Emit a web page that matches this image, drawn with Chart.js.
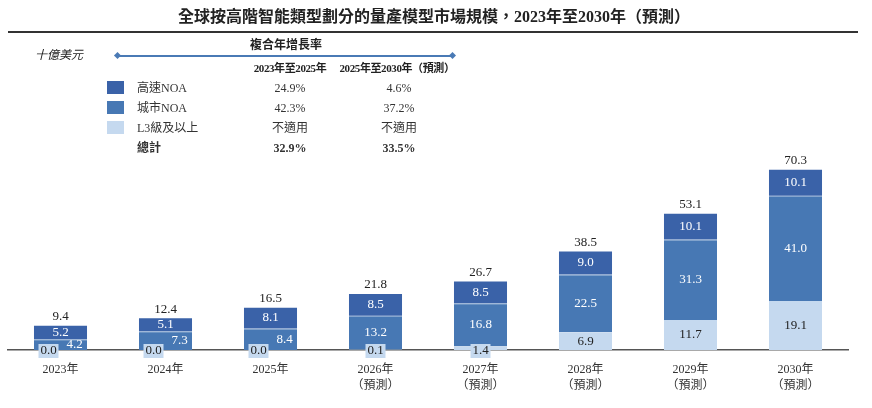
<!DOCTYPE html>
<html>
<head>
<meta charset="utf-8">
<script src="https://cdn.jsdelivr.net/npm/chart.js@4"></script>
<style>
  body { margin: 0; background: #fff; }
  #wrap { position: relative; width: 872px; height: 408px; font-family: "Liberation Serif", "DejaVu Serif", "Noto Sans CJK TC", serif; color: #222; }
  #wrap canvas { position: absolute; left: 0; top: 0; }
  .t { position: absolute; white-space: nowrap; font-size: 12px; line-height: 14px; }
  .c { transform: translateX(-50%); }
  .b { font-weight: bold; }
  .h { font-size: 11px; letter-spacing: -0.4px; }
  .sw { position: absolute; width: 17px; height: 13px; }
</style>
</head>
<body>
<div id="wrap">
  <canvas id="chart" width="872" height="408"></canvas>
  <div class="t c b" style="left:434px;top:8px;font-size:16px;line-height:18px;">全球按高階智能類型劃分的量產模型市場規模，2023年至2030年（預測）</div>
  <div style="position:absolute;left:8px;top:31px;width:850px;height:2px;background:#333;"></div>
  <div class="t" style="left:35px;top:48px;font-style:italic;font-size:12px;">十億美元</div>
  <div id="table"></div>
</div>
<script>
// 数据
const years = ['2023年', '2024年', '2025年', '2026年', '2027年', '2028年', '2029年', '2030年']
const forecast = [false, false, false, true, true, true, true, true]
const l3Values = [0.0, 0.0, 0.0, 0.1, 1.4, 6.9, 11.7, 19.1] // L3級及以上
const cityValues = [4.2, 7.3, 8.4, 13.2, 16.8, 22.5, 31.3, 41.0] // 城市NOA
const highwayValues = [5.2, 5.1, 8.1, 8.5, 8.5, 9.0, 10.1, 10.1] // 高速NOA
const totals = [9.4, 12.4, 16.5, 21.8, 26.7, 38.5, 53.1, 70.3]

// 複合年增長率表
const cagrTitle = '複合年增長率'
const cagrHeaders = ['2023年至2025年', '2025年至2030年（預測）']
const seriesNames = ['高速NOA', '城市NOA', 'L3級及以上', '總計']
const cagrFirst = ['24.9%', '42.3%', '不適用', '32.9%']
const cagrSecond = ['4.6%', '37.2%', '不適用', '33.5%']

const colors = {highway: '#3a62a8', city: '#4778b4', l3: '#c5d9ef'}
const serif = '"Liberation Serif", "DejaVu Serif", "Noto Sans CJK TC", serif'

{ // 表格
  const swatches = [colors.highway, colors.city, colors.l3, null]
  const rowY = [81, 101, 121, 141]
  let html = ''
  html += `<div class="t c b" style="left:286px;top:38px;">${cagrTitle}</div>`
  html += `<div style="position:absolute;left:118px;top:55px;width:334px;height:1.5px;background:#4a7ab5;"></div>`
  html += `<div style="position:absolute;left:115px;top:53px;width:5px;height:5px;background:#4a7ab5;transform:rotate(45deg);"></div>`
  html += `<div style="position:absolute;left:450px;top:53px;width:5px;height:5px;background:#4a7ab5;transform:rotate(45deg);"></div>`
  html += `<div class="t c b h" style="left:290px;top:61px;">${cagrHeaders[0]}</div>`
  html += `<div class="t c b h" style="left:397px;top:61px;">${cagrHeaders[1]}</div>`
  for (let i = 0; i < seriesNames.length; i++) {
    const bold = i === 3 ? ' b' : ''
    if (swatches[i]) {
      html += `<div class="sw" style="left:107px;top:${rowY[i]}px;background:${swatches[i]};"></div>`
    }
    html += `<div class="t${bold}" style="left:137px;top:${rowY[i]}px;color:#333;">${seriesNames[i]}</div>`
    html += `<div class="t c${bold}" style="left:290px;top:${rowY[i]}px;color:#333;">${cagrFirst[i]}</div>`
    html += `<div class="t c${bold}" style="left:399px;top:${rowY[i]}px;color:#333;">${cagrSecond[i]}</div>`
  }
  document.getElementById('table').innerHTML = html
}

// 数值标签
const valueLabels = {
  id: 'valueLabels',
  afterDatasetsDraw(chart) {
    const ctx = chart.ctx
    const m0 = chart.getDatasetMeta(0), m1 = chart.getDatasetMeta(1), m2 = chart.getDatasetMeta(2)
    ctx.save()
    ctx.font = '13px ' + serif
    ctx.textAlign = 'center'
    ctx.textBaseline = 'middle'
    for (let i = 0; i < years.length; i++) {
      const a = m0.data[i], b = m1.data[i], c = m2.data[i]
      // L3
      if (l3Values[i] < 2) {
        const bx = a.x + (l3Values[i] === 0 ? -12 : 0)
        const by = chart.chartArea.bottom
        ctx.fillStyle = colors.l3
        ctx.fillRect(bx - 10, by - 6, 20, 14)
        ctx.fillStyle = '#222'
        ctx.fillText(l3Values[i].toFixed(1), bx, by + 1)
      } else {
        ctx.fillStyle = '#222'
        ctx.fillText(l3Values[i].toFixed(1), a.x, (a.y + a.base) / 2)
      }
      // 城市
      ctx.fillStyle = '#fff'
      ctx.fillText(cityValues[i].toFixed(1), b.x + (l3Values[i] === 0 ? 14 : 0), (b.y + b.base) / 2)
      // 高速
      ctx.fillText(highwayValues[i].toFixed(1), c.x, (c.y + c.base) / 2)
      // 总计
      ctx.fillStyle = '#222'
      ctx.fillText(totals[i].toFixed(1), c.x, c.y - 9)
    }
    ctx.restore()
  }
}

new Chart(document.getElementById('chart'), {
  type: 'bar',
  data: {
    labels: years.map((y, i) => forecast[i] ? [y, '（預測）'] : y),
    datasets: [
      {label: 'L3級及以上', data: l3Values, backgroundColor: colors.l3, borderWidth: 0},
      {label: '城市NOA', data: cityValues, backgroundColor: colors.city,
        borderColor: '#7d9fcc', borderWidth: {top: 1, left: 0, right: 0, bottom: 0}, borderSkipped: false},
      {label: '高速NOA', data: highwayValues, backgroundColor: colors.highway, borderWidth: 0}
    ]
  },
  options: {
    responsive: false,
    animation: false,
    layout: {padding: {left: 8, right: 24, top: 144.6, bottom: 0}},
    barPercentage: 0.505,
    categoryPercentage: 1,
    plugins: {legend: {display: false}, tooltip: {enabled: false}},
    scales: {
      x: {
        stacked: true,
        grid: {display: false},
        border: {color: '#555', width: 1.5},
        ticks: {color: '#333', font: {family: serif, size: 12, lineHeight: 1.35}, padding: 4, maxRotation: 0},
        afterFit(scale) { scale.height = 58 }
      },
      y: {stacked: true, display: false, min: 0, max: 80}
    }
  },
  plugins: [valueLabels]
})
</script>
</body>
</html>
